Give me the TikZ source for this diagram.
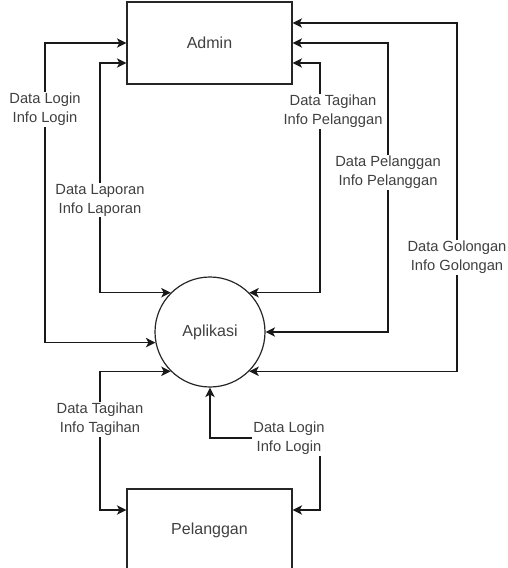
\documentclass[tikz,border=0pt]{standalone}
\usepackage{fontspec}
\setmainfont{Liberation Sans}
\usetikzlibrary{arrows.meta}
\pgfdeclarelayer{bg}
\pgfsetlayers{bg,main}
\begin{document}
\begin{tikzpicture}[x=1pt,y=-1pt,
  box/.style={draw=black!85,line width=1.2pt,minimum width=165pt,minimum height=82pt,inner sep=0pt,font=\fontsize{16}{19}\selectfont,text=black!75},
  proc/.style={draw=black!85,circle,line width=1.2pt,minimum size=110pt,inner sep=0pt,font=\fontsize{16}{19}\selectfont,text=black!75},
  lbl/.style={fill=white,align=center,inner sep=1pt,font=\fontsize{14.7}{19}\selectfont,text=black!75},
  flow/.style={line width=1.2pt,draw=black!90,{Stealth[length=9.5pt,width=9.5pt,inset=2.5pt]}-{Stealth[length=9.5pt,width=9.5pt,inset=2.5pt]}}]
\useasboundingbox (0,0) rectangle (507,568);
\node[box] (admin) at (209.5,43) {Admin};
\node[proc] (app) at (210,332) {Aplikasi};
\node[box] (pel) at (209.5,530) {Pelanggan};

\node[lbl] (lA) at (45,109.5) {Data Login\\Info Login};
\node[lbl] (lB) at (100,200) {Data Laporan\\Info Laporan};
\node[lbl] (lC) at (333,111.5) {Data Tagihan\\Info Pelanggan};
\node[lbl] (lD) at (388,172.5) {Data Pelanggan\\Info Pelanggan};
\node[lbl] (lE) at (457,257.5) {Data Golongan\\Info Golongan};
\node[lbl] (lF) at (100,419.5) {Data Tagihan\\Info Tagihan};
\node[lbl] (lG) at (289,438.5) {Data Login\\Info Login};

\begin{pgfonlayer}{bg}
\draw[flow] (admin.west) -- (45,43) |- (app.191.5);
\draw[flow] ([yshift=-20pt]admin.west) -- (100,63) |- (app.135);
\draw[flow] ([yshift=-20pt]admin.east) -- (320,63) |- (app.45);
\draw[flow] (admin.east) -- (388,43) |- (app.east);
\draw[flow] ([yshift=20pt]admin.east) -- (457,23) |- (app.315);
\draw[flow] (app.225) -| (100,510) -- ([yshift=20pt]pel.west);
\draw[flow] (app.south) |- (320,438) |- ([yshift=20pt]pel.east);
\end{pgfonlayer}
\end{tikzpicture}
\end{document}
